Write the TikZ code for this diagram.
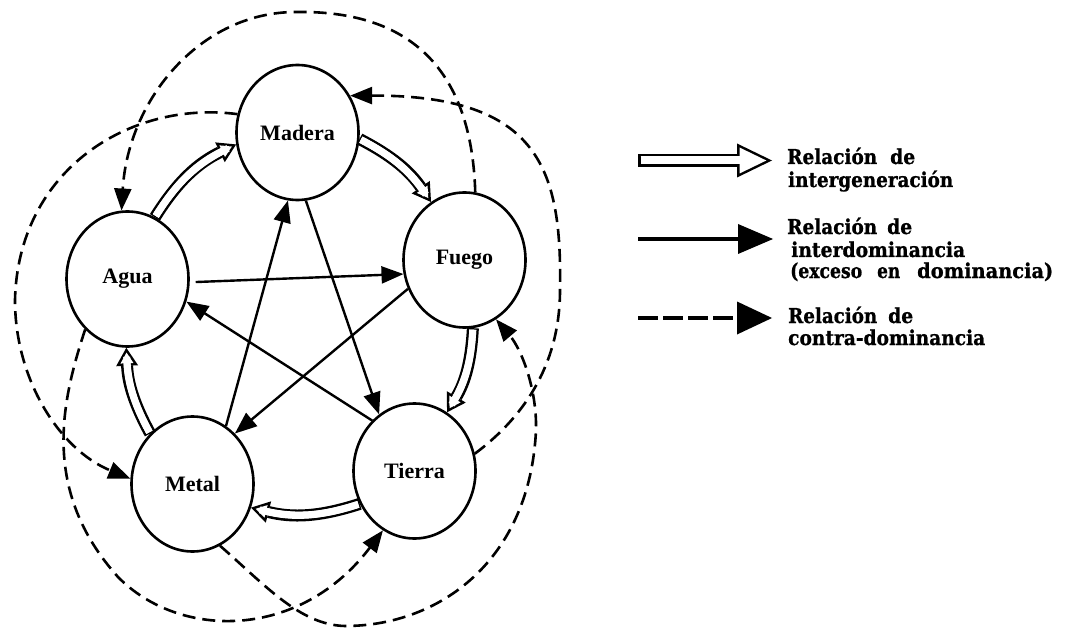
\documentclass[tikz,border=0pt]{standalone}
\usepackage{fontspec}
\setmainfont{Liberation Serif}
\newfontfamily\legfont{DejaVu Serif}[BoldFeatures={FakeBold=1}]
\usepackage{graphicx}
\usetikzlibrary{arrows.meta,shapes.geometric}
\newcommand{\fw}[2]{\resizebox{#1}{\height}{#2}}
\begin{document}
\begin{tikzpicture}[x=1pt,y=1pt,
  elem/.style={ellipse, draw, line width=2.6pt, minimum width=122pt, minimum height=135pt,
    inner sep=0pt, font=\fontsize{22}{24}\selectfont\bfseries},
  dom/.style={line width=2.4pt, -{Triangle[length=22pt,width=17pt]}},
  cdom/.style={line width=2.6pt, dash pattern=on 13pt off 7pt, -{Triangle[length=22pt,width=17pt]}},
  gen/.style={draw=white, line width=7pt, shorten <=1.5pt, shorten >=4.8pt,
    -{Triangle[length=10.7pt,width=13pt,line width=0pt]},
    preaction={draw=black, line width=12pt, shorten <=0pt, shorten >=0pt,
      -{Triangle[length=18pt,width=22pt,line width=0pt]}},
    postaction={draw=white, line width=7pt, shorten <=1.5pt, shorten >=9pt, -}},
  genleg/.style={draw=white, line width=8pt, shorten <=2.5pt, shorten >=5.7pt,
    -{Triangle[length=26.8pt,width=26pt,line width=0pt]},
    preaction={draw=black, line width=13pt, shorten <=0pt, shorten >=0pt,
      -{Triangle[length=35pt,width=34pt,line width=0pt]}},
    postaction={draw=white, line width=8pt, shorten <=2.5pt, shorten >=16pt, -}},
  domleg/.style={line width=3.5pt, -{Triangle[length=35pt,width=30pt,line width=0pt]}},
  cdomleg/.style={line width=4pt, dash pattern=on 20pt off 5pt, -{Triangle[length=35pt,width=33pt,line width=0pt]}},
  leg/.style={anchor=base west, inner sep=0pt, font=\legfont\fontsize{20.5}{22}\selectfont\bfseries}
]
\useasboundingbox[fill=white] (0,0) rectangle (1070,-636);

% elements
\node[elem] (madera) at (297.5,-132.5) {Madera};
\node[elem] (agua)   at (127.5,-279)   {Agua};
\node[elem] (fuego)  at (464.5,-260)   {Fuego};
\node[elem] (metal)  at (192.5,-484)   {Metal};
\node[elem] (tierra) at (414.5,-471)   {Tierra};

% interdominancia
\draw[dom, shorten <=6pt] (agua.-3) -- (fuego.193);
\draw[dom] (fuego.207) -- (metal.50);
\draw[dom] (metal.60) -- (madera.262);
\draw[dom] (madera.277) -- (tierra.122);
\draw[dom] (tierra.130) -- (agua.-21);

% contra-dominancia
\draw[cdom] (fuego.81) .. controls (472,-80) and (420,-10) .. (296,-12)
  .. controls (200,-12) and (128,-100) .. (agua.95);
\draw[cdom] (madera.163) .. controls (130,-100) and (18,-170) .. (15,-300)
  .. controls (15,-380) and (60,-450) .. (metal.175);
\draw[cdom] (tierra.16) .. controls (528,-414) and (560,-360) .. (560,-290)
  .. controls (562,-170) and (540,-95) .. (madera.35);
\draw[cdom] (metal.294) .. controls (265,-585) and (300,-625) .. (345,-626)
  .. controls (440,-626) and (530,-560) .. (536,-430)
  .. controls (537,-390) and (522,-350) .. (fuego.298);
\draw[cdom] (agua.230) .. controls (62,-400) and (40,-490) .. (118,-577)
  .. controls (180,-640) and (300,-640) .. (tierra.242);

% intergeneracion
\draw[gen] (agua.66) to[bend left=16] (madera.191);
\draw[gen] (madera.-6) to[bend left=14] (fuego.120);
\draw[gen] (fuego.277) to[bend left=14] (tierra.61);
\draw[gen] (tierra.211) to[bend left=16] (metal.-22);
\draw[gen] (metal.130) to[bend left=13] (agua.269);

% legend
\coordinate (l1s) at (638,-160.5); \coordinate (l1e) at (772,-160.5);
\coordinate (l2s) at (638,-239);   \coordinate (l2e) at (773,-239);
\coordinate (l3s) at (638,-318);   \coordinate (l3e) at (772,-318);
\draw[genleg] (l1s) -- (l1e);
\draw[domleg] (l2s) -- (l2e);
\draw[cdomleg] (l3s) -- (l3e);

\node[leg] (t11) at (787,-164) {\fw{90pt}{Relación}\hspace{13pt}\fw{25pt}{de}};
\node[leg] (t12) at (788,-187) {\fw{165pt}{intergeneración}};
\node[leg] (t21) at (787,-234) {\fw{90pt}{Relación}\hspace{10pt}\fw{25pt}{de}};
\node[leg] (t22) at (791,-257) {\fw{174pt}{interdominancia}};
\node[leg] (t23) at (790,-278) {\fw{72pt}{(exceso}\hspace{15pt}\fw{23pt}{en}\hspace{17pt}\fw{136pt}{dominancia)}};
\node[leg] (t31) at (788,-323) {\fw{89pt}{Relación}\hspace{11pt}\fw{25pt}{de}};
\node[leg] (t32) at (788,-345) {\fw{197pt}{contra-dominancia}};
\end{tikzpicture}
\end{document}
